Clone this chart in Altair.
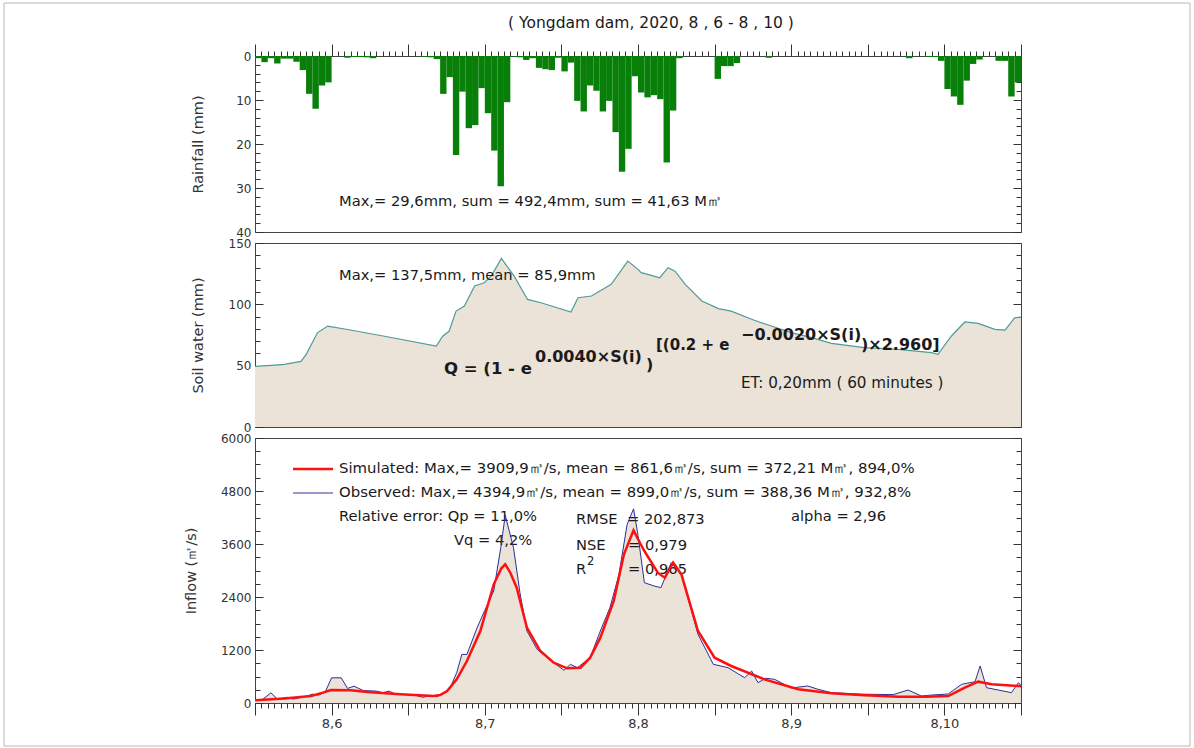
import altair as alt
import pandas as pd

# ---------------- data (hour index 0 = 2020-08-05 12:00) ----------------
rain_mm = [
    0.5, 1.4, 0.5, 1.7, 0.6, 0.6, 1.3, 3.2, 8.6, 12.0,
    6.7, 6.0, 0.0, 0.0, 0.4, 0.2, 0.2, 0.3, 0.5, 0.0,
    0.0, 0.0, 0.0, 0.0, 0.0, 0.0, 0.2, 0.3, 0.7, 8.6,
    4.8, 22.5, 8.1, 16.4, 15.7, 7.3, 13.0, 21.5, 29.6, 10.5,
    0.1, 0.3, 0.9, 0.5, 2.7, 3.0, 3.2, 0.4, 3.5, 1.5,
    10.2, 12.6, 6.7, 7.9, 12.6, 10.2, 17.3, 26.3, 21.1, 4.6,
    8.3, 9.4, 8.9, 9.8, 24.2, 12.4, 0.5, 0.0, 0.0, 0.0,
    0.0, 0.0, 5.2, 2.3, 2.3, 1.6, 0.0, 0.0, 0.0, 0.0,
    0.4, 0.0, 0.0, 0.0, 0.0, 0.0, 0.0, 0.0, 0.0, 0.0,
    0.0, 0.0, 0.0, 0.0, 0.0, 0.0, 0.0, 0.0, 0.0, 0.0,
    0.0, 0.0, 0.5, 0.0, 0.0, 0.2, 0.2, 1.1, 7.5, 9.2,
    11.1, 5.6, 1.8, 0.8, 0.0, 0.0, 1.1, 1.1, 9.2, 6.0,
]

soil_hours = [0, 2.5, 4.6, 7.2, 8.0, 9.8, 11.4, 14.5, 20.3, 28.4, 29.4, 30.4, 31.5,
              32.8, 34.4, 35.9, 37.0, 38.6, 40.6, 42.7, 44.8, 49.5, 50.6, 52.7, 55.8,
              58.4, 60.0, 60.5, 62.1, 63.4, 64.7, 65.8, 67.4, 70.0, 72.6, 74.6, 77.8,
              80.9, 84.0, 87.2, 90.3, 95.5, 100.7, 106.0, 107.0, 109.1, 111.2, 113.3,
              115.9, 117.5, 119.0, 120.0]
soil_mm = [49.5, 50.3, 51.0, 53.5, 59.0, 77.0, 82.3, 79.5, 74.0, 66.0, 74.0, 78.0, 94.5,
           98.6, 115.0, 117.6, 123.0, 137.5, 123.0, 104.0, 101.3, 93.7, 105.4, 106.8, 116.3,
           135.3, 128.5, 125.8, 123.6, 121.7, 129.9, 127.0, 116.3, 102.7, 96.5, 94.5, 87.8,
           82.3, 76.9, 72.8, 68.2, 64.7, 63.3, 60.6, 59.2, 74.2, 85.6, 84.5,
           79.6, 79.0, 89.0, 89.5]

obs_hours = [0, 1, 2.5, 3.5, 5, 6, 8, 9, 10, 11, 12, 13.5, 14.5, 15.5, 17, 19, 20, 21, 22,
             25, 26.3, 27.5, 28.5, 29.5, 30.5, 31.6, 32.4, 33.2, 34.8, 36, 37.4, 38.5, 39.2,
             40.5, 41.5, 42.6, 44.2, 46, 48.4, 49.4, 50.5, 52.5, 54.1, 55.6, 57, 58.3, 59.3,
             60, 61, 62.5, 63.6, 65.2, 66.8, 69.4, 71.8, 74.1, 76.7, 77.8, 78.8, 80, 81.4,
             84, 86.6, 88.2, 90.3, 95, 100, 102.3, 104.4, 106, 108.6, 110.7, 112.8, 113.6,
             114.6, 118.5, 119.6, 120]
obs_q = [60, 60, 230, 90, 130, 90, 150, 200, 180, 250, 570, 570, 330, 380, 280, 270, 230, 270, 200,
         180, 130, 170, 140, 230, 320, 686, 1100, 1100, 1705, 2100, 2536, 3516, 4250,
         3516, 2500, 1630, 1216, 1000, 740, 876, 800, 1026, 1630, 2158, 2900, 4045, 4395,
         3800, 2724, 2650, 2611, 3177, 2913, 1555, 876, 800, 573, 724, 460, 560, 536,
         340, 385, 310, 234, 200, 190, 294, 158, 180, 204, 423, 483, 838,
         347, 234, 460, 400]

sim_hours = [0, 4.6, 8.8, 10.5, 11.9, 15, 17.6, 22.8, 28, 29, 30.1, 31.6, 33.2, 35.3, 37.4,
             38.6, 39.2, 40, 41, 42.6, 44.7, 46.8, 48.9, 51, 52.5, 54.1, 56.2, 57.8, 59.3,
             60.4, 61, 63.1, 64.2, 65.5, 66.8, 69.4, 72, 74.6, 79.8, 85.1, 90.3, 95.5, 100.8,
             105, 108.6, 111.2, 113.3, 115.4, 119.6, 120]
sim_q = [60, 100, 160, 230, 294, 287, 250, 196, 158, 180, 272, 536, 951, 1630, 2687,
         3050, 3140, 2950, 2611, 1705, 1177, 913, 785, 800, 1026, 1479, 2309, 3366, 3910,
         3600, 3441, 2951, 2838, 3177, 2913, 1630, 1026, 838, 536, 310, 219, 174, 143,
         140, 158, 347, 483, 423, 385, 380]

rain_ticks = list(range(0, 41, 2))
rain_labels = [0, 10, 20, 30, 40]
soil_ticks = list(range(0, 151, 10))
soil_labels = [0, 50, 100, 150]
flow_ticks = list(range(0, 6001, 300))
flow_labels = [0, 1200, 2400, 3600, 4800, 6000]
hour_ticks = list(range(0, 121))

# ---------------- layout / style ----------------
W = 766
H1, H2, H3 = 176, 184, 265
FONT = "DejaVu Sans"
TXT = "#1a1a1a"
TS = 14.7
GREEN = "#087f08"
BEIGE = "#ebe2d8"
TEAL = "#4f9c98"
NAVY = "#2a2f9a"
RED = "#ff1010"

rain_df = pd.DataFrame({"t": list(range(120)), "t2": list(range(1, 121)),
                        "rain": rain_mm, "z": [0.0] * 120})
soil_df = pd.DataFrame({"t": soil_hours, "v": soil_mm})
obs_df = pd.DataFrame({"t": obs_hours, "q": obs_q})
sim_df = pd.DataFrame({"t": sim_hours, "q": sim_q})
one = pd.DataFrame({"k": [0]})

xscale = alt.Scale(domain=[0, 120], nice=False, zero=False)


def tsize(test, big, small):
    return {"condition": {"test": test, "value": big}, "value": small}


def text(s, x, y, size=TS, weight="normal", align="left", color=TXT):
    return alt.Chart(one).mark_text(
        text=s, align=align, baseline="middle", font=FONT, fontSize=size,
        fontWeight=weight, color=color,
    ).encode(x=alt.value(x), y=alt.value(y))


def hline(x1, x2, y, color, w):
    return alt.Chart(one).mark_rule(color=color, strokeWidth=w).encode(
        x=alt.value(x1), x2=alt.value(x2), y=alt.value(y))


def axis_layers(yscale, y0, labels, ticks, major_test, title, title_x, h, xaxis):
    pt = pd.DataFrame({"t": [0], "v": [y0]})
    lab = alt.Chart(pt).mark_point(opacity=0).encode(
        x=alt.X("t:Q", scale=xscale, axis=xaxis),
        y=alt.Y("v:Q", scale=yscale, axis=alt.Axis(
            orient="left", values=labels, ticks=False, domain=False, grid=False,
            format="d", labelPadding=4, labelFont=FONT, labelFontSize=12,
            labelColor="#333",
            title=title, titleX=title_x, titleY=h / 2, titleAngle=270,
            titleAlign="center", titleBaseline="middle", titleFont=FONT,
            titleFontSize=14.5, titleFontWeight="normal", titleColor="#333")))
    left_in = alt.Chart(pt).mark_point(opacity=0).encode(
        x=alt.X("t:Q", scale=xscale, axis=None),
        y=alt.Y("v:Q", scale=yscale, axis=alt.Axis(
            orient="right", offset=-W, values=ticks, labels=False, domain=False,
            grid=False, title=None, tickColor="#333",
            tickSize=tsize(major_test, 8, 5))))
    right_in = alt.Chart(pt).mark_point(opacity=0).encode(
        x=alt.X("t:Q", scale=xscale, axis=None),
        y=alt.Y("v:Q", scale=yscale, axis=alt.Axis(
            orient="left", offset=-W, values=ticks, labels=False, domain=False,
            grid=False, title=None, tickColor="#333",
            tickSize=tsize(major_test, 8, 5))))
    return [lab, left_in, right_in]


# ---------------- panel 1: rainfall ----------------
rscale = alt.Scale(domain=[0, 40], reverse=True, nice=False, zero=False)
bars = alt.Chart(rain_df).mark_rect(color=GREEN).encode(
    x=alt.X("t:Q", scale=xscale, axis=None),
    x2="t2:Q",
    y=alt.Y("rain:Q", scale=rscale, axis=None),
    y2="z:Q",
)
top_xaxis = alt.Axis(orient="top", values=hour_ticks, labels=False, domain=False,
                     grid=False, title=None, tickColor="#333",
                     tickSize=tsize("datum.value % 12 === 0", 12, 5))
frame = alt.Chart(one).mark_rect(fill="transparent", stroke="#b8b8b8", strokeWidth=1).encode(
    x=alt.value(-251), x2=alt.value(935), y=alt.value(-53), y2=alt.value(690))

p1 = alt.layer(
    frame,
    bars,
    text("( Yongdam dam, 2020, 8 , 6 - 8 , 10 )", 396, -33, size=15.5, align="center"),
    text("Max,= 29,6mm, sum = 492,4mm, sum = 41,63 M㎥", 84, 146),
    *axis_layers(rscale, 0, rain_labels, rain_ticks, "datum.value % 10 === 0",
                 "Rainfall (mm)", -57, H1, top_xaxis),
).resolve_axis(x="independent", y="independent").properties(width=W, height=H1)

# ---------------- panel 2: soil water ----------------
sscale = alt.Scale(domain=[0, 150], nice=False, zero=False)
soil_area = alt.Chart(soil_df).mark_area(color=BEIGE, opacity=1).encode(
    x=alt.X("t:Q", scale=xscale, axis=None),
    y=alt.Y("v:Q", scale=sscale, axis=None),
)
soil_line = alt.Chart(soil_df).mark_line(color=TEAL, strokeWidth=1.2).encode(
    x=alt.X("t:Q", scale=xscale, axis=None),
    y=alt.Y("v:Q", scale=sscale, axis=None),
)
p2 = alt.layer(
    soil_area,
    soil_line,
    text("Max,= 137,5mm, mean = 85,9mm", 84, 33),
    text("Q = (1 - e", 189, 126, size=16.5, weight="bold"),
    text("0.0040×S(i)", 280, 114, size=16, weight="bold"),
    text(")", 391, 122, size=16, weight="bold"),
    text("[(0.2 + e", 401, 102, size=15, weight="bold"),
    text("−0.0020×S(i)", 486, 92, size=16, weight="bold"),
    text(")×2.960]", 606, 102, size=16, weight="bold"),
    text("ET: 0,20mm ( 60  minutes )", 486, 140, size=15.2),
    *axis_layers(sscale, 0, soil_labels, soil_ticks, "datum.value % 50 === 0",
                 "Soil water (mm)", -57, H2, None),
).resolve_axis(x="independent", y="independent").properties(width=W, height=H2)

# ---------------- panel 3: inflow ----------------
fscale = alt.Scale(domain=[0, 6000], nice=False, zero=False)
flow_area = alt.Chart(obs_df).mark_area(color=BEIGE, opacity=1).encode(
    x=alt.X("t:Q", scale=xscale, axis=None),
    y=alt.Y("q:Q", scale=fscale, axis=None),
)
obs_line = alt.Chart(obs_df).mark_line(color=NAVY, strokeWidth=1).encode(
    x=alt.X("t:Q", scale=xscale, axis=None),
    y=alt.Y("q:Q", scale=fscale, axis=None),
)
sim_line = alt.Chart(sim_df).mark_line(color=RED, strokeWidth=2.5).encode(
    x=alt.X("t:Q", scale=xscale, axis=None),
    y=alt.Y("q:Q", scale=fscale, axis=None),
)
bottom_xaxis = alt.Axis(
    orient="bottom", values=hour_ticks, domain=False, grid=False, title=None,
    tickColor="#333", tickSize=tsize("datum.value % 12 === 0", 12, 5),
    labelExpr="(datum.value - 12) % 24 === 0 ? '8,' + (6 + (datum.value - 12) / 24) : ''",
    labelOverlap=False, labelFlush=False, labelFont=FONT, labelFontSize=13,
    labelColor="#333", labelPadding=2)

p3 = alt.layer(
    flow_area,
    text("Simulated: Max,= 3909,9㎥/s, mean = 861,6㎥/s, sum = 372,21 M㎥, 894,0%", 84, 31, size=14.9),
    text("Observed: Max,= 4394,9㎥/s, mean = 899,0㎥/s, sum = 388,36 M㎥, 932,8%", 84, 55, size=14.9),
    text("Relative error: Qp = 11,0%", 84, 79),
    text("Vq = 4,2%", 199, 103),
    text("RMSE", 321, 82),
    text("= 202,873", 372, 82),
    text("NSE", 321, 108),
    text("= 0,979", 373, 108),
    text("R", 321, 132),
    text("2", 332, 124, size=11.5),
    text("= 0,965", 373, 132),
    text("alpha = 2,96", 536, 79),
    obs_line,
    sim_line,
    hline(38, 78, 31, RED, 2.5),
    hline(38, 78, 55, NAVY, 1),
    *axis_layers(fscale, 0, flow_labels, flow_ticks, "datum.value % 1200 === 0",
                 "Inflow (㎥/s)", -64, H3, bottom_xaxis),
).resolve_axis(x="independent", y="independent").properties(width=W, height=H3)

chart = alt.vconcat(p1, p2, p3, spacing=11, bounds="flush").properties(
    padding={"left": 3, "top": 2, "right": 0, "bottom": 0},
    background="white",
).configure_view(stroke="#444", strokeWidth=1)

chart.save("out.html", embed_options={"renderer": "svg", "actions": False})
